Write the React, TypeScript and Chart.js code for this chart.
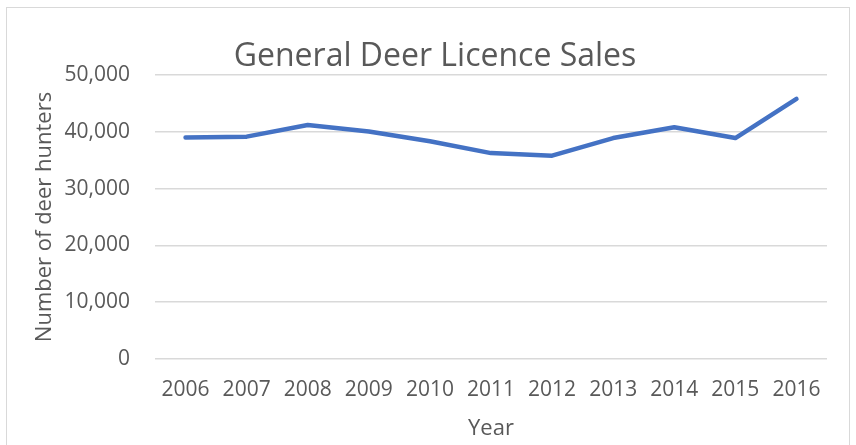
import React, { useEffect, useRef } from "react";
import { Chart, registerables } from "chart.js";

Chart.register(...registerables);

const years = ["2006", "2007", "2008", "2009", "2010", "2011", "2012", "2013", "2014", "2015", "2016"];
const hunters = [39000, 39150, 41200, 40050, 38350, 36250, 35800, 38900, 40800, 38900, 45800];
const yTicks = [0, 10000, 20000, 30000, 40000, 50000];

const FONT = "'Open Sans', 'Liberation Sans', sans-serif";
const GREY = "#595959";

export default function App() {
  const ref = useRef<HTMLCanvasElement | null>(null);

  useEffect(() => {
    if (!ref.current) return;
    const chart = new Chart(ref.current, {
      type: "line",
      data: {
        labels: years,
        datasets: [
          {
            data: hunters,
            borderColor: "#4472C4",
            backgroundColor: "#4472C4",
            borderWidth: 4.5,
            pointRadius: 0,
            pointHoverRadius: 0,
            tension: 0,
            borderCapStyle: "round",
            borderJoinStyle: "round",
            fill: false,
          },
        ],
      },
      options: {
        responsive: false,
        animation: false,
        devicePixelRatio: 1,
        layout: { padding: { left: 36, right: 22, top: 0, bottom: 0 } },
        plugins: {
          legend: { display: false },
          tooltip: { enabled: false },
          title: {
            display: true,
            text: "General Deer Licence Sales",
            color: GREY,
            font: { family: FONT, size: 32, weight: "normal" },
            padding: { top: 30, bottom: -1.4 },
          },
        },
        scales: {
          x: {
            type: "category",
            offset: true,
            grid: { display: false, drawTicks: false },
            border: { display: false },
            ticks: {
              color: GREY,
              font: { family: FONT, size: 21 },
              padding: 18,
              maxRotation: 0,
              autoSkip: false,
            },
            title: {
              display: true,
              text: "Year",
              color: GREY,
              font: { family: FONT, size: 22 },
              padding: { top: 0, bottom: 3 },
            },
            afterFit: (scale: any) => {
              scale.height = 86;
            },
          },
          y: {
            min: 0,
            max: 50000,
            afterBuildTicks: (scale: any) => {
              scale.ticks = yTicks.map((v) => ({ value: v }));
            },
            grid: { color: "#d9d9d9", lineWidth: 1.5, drawTicks: false },
            border: { display: false },
            ticks: {
              color: GREY,
              font: { family: FONT, size: 21 },
              padding: 25,
              callback: (v: any) => Number(v).toLocaleString("en-US"),
            },
            title: {
              display: true,
              text: "Number of deer hunters",
              color: GREY,
              font: { family: FONT, size: 22 },
              padding: { top: -11.5, bottom: 0 },
            },
            afterFit: (scale: any) => {
              scale.width = 112;
            },
          },
        },
      },
    });
    return () => chart.destroy();
  }, []);

  return (
    <div
      style={{
        position: "absolute",
        left: 6,
        top: 7,
        width: 844,
        height: 438,
        border: "1px solid #d9d9d9",
        borderBottom: "none",
        boxSizing: "border-box",
        background: "#fff",
      }}
    >
      <canvas ref={ref} width={842} height={437} style={{ display: "block" }} />
    </div>
  );
}
